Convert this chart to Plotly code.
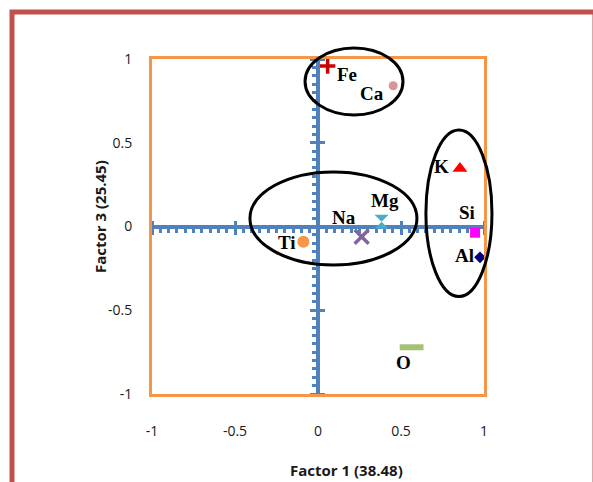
import plotly.graph_objects as go

# ---------------- data ----------------
elements = ["Fe", "Ca", "K", "Si", "Al", "Mg", "Na", "Ti", "O"]
factor1 = [0.058, 0.453, 0.855, 0.946, 0.976, 0.383, 0.263, -0.088, 0.564]
factor3 = [0.958, 0.840, 0.347, -0.037, -0.184, 0.029, -0.061, -0.091, -0.721]

x_tick_vals = [-1, -0.5, 0, 0.5, 1]
x_tick_text = ["-1", "-0.5", "0", "0.5", "1"]
y_tick_vals = [-1, -0.5, 0, 0.5, 1]
y_tick_text = ["-1", "-0.5", "0", "0.5", "1"]

x_title = "Factor 1 (38.48)"
y_title = "Factor 3 (25.45)"

# ---------------- styles ----------------
marker_styles = {
    "Fe": dict(symbol="cross-thin-open", color="#CC0000", size=11, lw=3.5),
    "Ca": dict(symbol="circle", color="#D99694", size=9, lw=0),
    "K": dict(symbol="triangle-up", color="#FF0000", size=13, lw=0),
    "Si": dict(symbol="square", color="#FF00FF", size=10, lw=0),
    "Al": dict(symbol="diamond", color="#000080", size=9, lw=0),
    "Mg": dict(symbol="hourglass", color="#4BACC6", size=14, lw=0),
    "Na": dict(symbol="x-thin-open", color="#8064A2", size=14, lw=3.5),
    "Ti": dict(symbol="circle", color="#F79646", size=12, lw=0),
    "O": dict(symbol="line-ew-open", color="#A4C273", size=17, lw=6),
}
# label offsets in pixels (dx right, dy up)
label_offsets = {
    "Fe": (19, -8), "Ca": (-21, -8), "K": (-18, 2), "Si": (-8, 20),
    "Al": (-16, 2), "Mg": (3, 21), "Na": (-18, 19), "Ti": (-16, -1),
    "O": (-8, -15),
}
# grouping ellipses: (center x, center y, radius x, radius y) in data units
ellipses = [
    (0.217, 0.866, 0.295, 0.200),
    (0.093, 0.048, 0.503, 0.278),
    (0.849, 0.079, 0.199, 0.497),
]

W, H = 593, 482
ML, MR, MT, MB = 152, 109, 59, 88
XR = [-1, 1]
YR = [-1, 1]
PW, PH = W - ML - MR, H - MT - MB

def dx2p(v):
    return (v - XR[0]) / (XR[1] - XR[0])

def dy2p(v):
    return (v - YR[0]) / (YR[1] - YR[0])

def px2p(px):
    return (px - ML) / PW

def py2p(py):
    return (H - MB - py) / PH

AXIS_BLUE = "#4F81BD"
ORANGE = "#F79646"

fig = go.Figure()

for i, el in enumerate(elements):
    st = marker_styles[el]
    fig.add_trace(go.Scatter(
        x=[factor1[i]], y=[factor3[i]], mode="markers", name=el,
        marker=dict(symbol=st["symbol"], color=st["color"], size=st["size"],
                    line=dict(width=st["lw"], color=st["color"])),
        showlegend=False, cliponaxis=False,
    ))

# dummy traces so the crossing axes get drawn
fig.add_trace(go.Scatter(x=[], y=[], xaxis="x2", yaxis="y2", showlegend=False, hoverinfo="skip"))
fig.add_trace(go.Scatter(x=[], y=[], xaxis="x3", yaxis="y3", showlegend=False, hoverinfo="skip"))

tickfont = dict(family="Open Sans", size=14, color="#1a1a1a")

fig.update_layout(
    width=W, height=H,
    margin=dict(l=ML, r=MR, t=MT, b=MB, pad=0),
    paper_bgcolor="white", plot_bgcolor="white",
    showlegend=False,
    xaxis=dict(range=XR, tickvals=x_tick_vals, ticktext=x_tick_text,
               showgrid=False, zeroline=False, showline=True, mirror=True,
               linecolor=ORANGE, linewidth=3, ticks="", tickfont=tickfont,
               ticklabelstandoff=22),
    yaxis=dict(range=YR, tickvals=y_tick_vals, ticktext=y_tick_text,
               showgrid=False, zeroline=False, showline=True, mirror=True,
               linecolor=ORANGE, linewidth=3, ticks="", tickfont=tickfont,
               ticklabelstandoff=14),
    # horizontal crossing axis (at y = 0), minor ticks below
    xaxis2=dict(range=XR, overlaying="x", anchor="free", position=dy2p(0),
                side="bottom", showline=True, linecolor=AXIS_BLUE, linewidth=4,
                showgrid=False, zeroline=False, showticklabels=False,
                ticks="outside", dtick=0.5, tick0=0, ticklen=6, tickwidth=3,
                tickcolor=AXIS_BLUE, layer="below traces",
                minor=dict(dtick=0.05, ticks="outside", ticklen=4, tickwidth=2.5,
                           tickcolor=AXIS_BLUE, showgrid=False)),
    yaxis2=dict(range=YR, overlaying="y", anchor="free", position=dx2p(0),
                side="left", showline=True, linecolor=AXIS_BLUE, linewidth=4,
                showgrid=False, zeroline=False, showticklabels=False,
                ticks="outside", dtick=0.5, tick0=0, ticklen=6, tickwidth=3,
                tickcolor=AXIS_BLUE, layer="below traces",
                minor=dict(dtick=0.05, ticks="outside", ticklen=4, tickwidth=2.5,
                           tickcolor=AXIS_BLUE, showgrid=False)),
    # major ticks on the other side
    xaxis3=dict(range=XR, overlaying="x", anchor="free", position=dy2p(0),
                side="top", showline=False, showgrid=False, zeroline=False,
                showticklabels=False, ticks="outside", dtick=0.5, tick0=0,
                ticklen=6, tickwidth=3, tickcolor=AXIS_BLUE, layer="below traces"),
    yaxis3=dict(range=YR, overlaying="y", anchor="free", position=dx2p(0),
                side="right", showline=False, showgrid=False, zeroline=False,
                showticklabels=False, ticks="outside", dtick=0.5, tick0=0,
                ticklen=6, tickwidth=3, tickcolor=AXIS_BLUE, layer="below traces"),
)

annotations = []
for i, el in enumerate(elements):
    dx, dy = label_offsets[el]
    annotations.append(dict(
        x=factor1[i], y=factor3[i], xref="x", yref="y", text="<b>" + el + "</b>",
        showarrow=False, xshift=dx, yshift=dy,
        font=dict(family="Liberation Serif", size=19, color="black"),
        xanchor="center", yanchor="middle",
    ))

annotations.append(dict(
    x=px2p(346), y=0, xref="paper", yref="paper", yshift=-76,
    text="<b>" + x_title + "</b>", showarrow=False,
    font=dict(family="Open Sans", size=15, color="#1a1a1a"),
    xanchor="center", yanchor="middle",
))
annotations.append(dict(
    x=0, y=py2p(217), xref="paper", yref="paper", xshift=-(ML - 100),
    text="<b>" + y_title + "</b>", showarrow=False, textangle=-90,
    font=dict(family="Open Sans", size=15, color="#1a1a1a"),
    xanchor="center", yanchor="middle",
))
fig.update_layout(annotations=annotations)

shapes = []
for cx, cy, rx, ry in ellipses:
    shapes.append(dict(
        type="circle", xref="paper", yref="paper",
        x0=dx2p(cx - rx), x1=dx2p(cx + rx),
        y0=dy2p(cy - ry), y1=dy2p(cy + ry),
        line=dict(color="black", width=3), layer="above",
    ))
# outer red frame
shapes.append(dict(
    type="rect", xref="paper", yref="paper",
    x0=px2p(12), x1=px2p(595), y0=py2p(495), y1=py2p(12),
    line=dict(color="#C0504D", width=5), layer="above",
))
fig.update_layout(shapes=shapes)

fig.write_html("out.html")
